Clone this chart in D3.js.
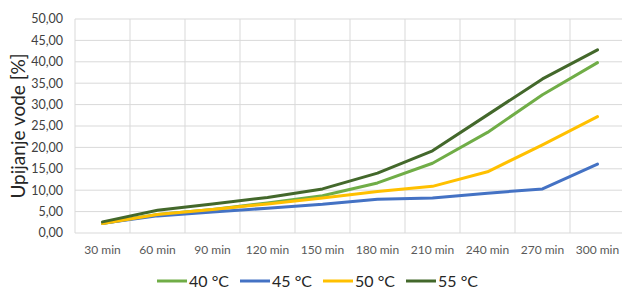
<!DOCTYPE html>
<html><head><meta charset="utf-8">
<script src="https://cdn.jsdelivr.net/npm/d3@7"></script>
<style>body{margin:0;background:#fff}svg{display:block}</style>
</head><body><svg id="c" width="622" height="289"></svg>
<script>
const categories = ["30 min","60 min","90 min","120 min","150 min","180 min","210 min","240 min","270 min","300 min"];
const seriesNames = ["40 °C","45 °C","50 °C","55 °C"];
const s40 = [2.2,4.3,5.5,7.0,8.7,11.7,16.3,23.5,32.3,39.8];
const s45 = [2.3,4.0,4.9,5.8,6.7,7.9,8.2,9.3,10.3,16.1];
const s50 = [2.2,4.3,5.5,6.8,8.2,9.7,10.9,14.3,20.6,27.2];
const s55 = [2.6,5.3,6.8,8.3,10.3,14.0,19.2,27.6,36.0,42.8];
const colors = ["#70AD47","#4472C4","#FFC000","#43682B"];
const yTicks = [0,5,10,15,20,25,30,35,40,45,50];
const series = [s40,s45,s50,s55];
const font = "Lato, 'Open Sans', sans-serif";

const svg = d3.select("#c");
const L = 75, R = 625, T = 19, B = 233;
const x = d3.scaleBand().domain(categories).range([L,R]);
const y = d3.scaleLinear().domain([0,50]).range([B,T]);

// gridlines
svg.append("g").selectAll("line").data(yTicks).join("line")
  .attr("x1",L).attr("x2",R).attr("y1",d=>y(d)).attr("y2",d=>y(d))
  .attr("stroke","#d9d9d9").attr("stroke-width",1);
svg.append("g").selectAll("line").data(categories).join("line")
  .attr("x1",d=>x(d)).attr("x2",d=>x(d)).attr("y1",T).attr("y2",B)
  .attr("stroke","#d9d9d9").attr("stroke-width",1);

// y tick labels
svg.append("g").selectAll("text").data(yTicks).join("text")
  .attr("x",63).attr("y",d=>y(d)).attr("dy","0.35em")
  .attr("text-anchor","end").attr("font-family",font).attr("font-size",12.5)
  .attr("fill","#404040").text(d=>d.toFixed(2).replace(".",","));

// x labels
svg.append("g").selectAll("text").data(categories).join("text")
  .attr("x",d=>x(d)+x.bandwidth()/2).attr("y",250).attr("dy","0.35em")
  .attr("text-anchor","middle").attr("font-family",font).attr("font-size",12)
  .attr("fill","#595959").text(d=>d);

// y axis title
svg.append("text").attr("transform","translate(25,126) rotate(-90)")
  .attr("text-anchor","middle").attr("font-family",font).attr("font-size",19)
  .attr("fill","#262626").text("Upijanje vode [%]");

// lines
const line = d3.line().x((d,i)=>x(categories[i])+x.bandwidth()/2).y(d=>y(d));
svg.append("g").selectAll("path").data(series).join("path")
  .attr("d",d=>line(d)).attr("fill","none")
  .attr("stroke",(d,i)=>colors[i]).attr("stroke-width",3)
  .attr("stroke-linejoin","round").attr("stroke-linecap","round");

// legend
const lg = svg.append("g").selectAll("g").data(seriesNames).join("g")
  .attr("transform",(d,i)=>`translate(${157+i*83},281)`);
lg.append("line").attr("x1",0).attr("x2",30).attr("stroke",(d,i)=>colors[i]).attr("stroke-width",3);
lg.append("text").attr("x",32).attr("dy","0.35em").attr("font-family",font).attr("font-size",16)
  .attr("fill","#262626").text(d=>d);
</script></body></html>
